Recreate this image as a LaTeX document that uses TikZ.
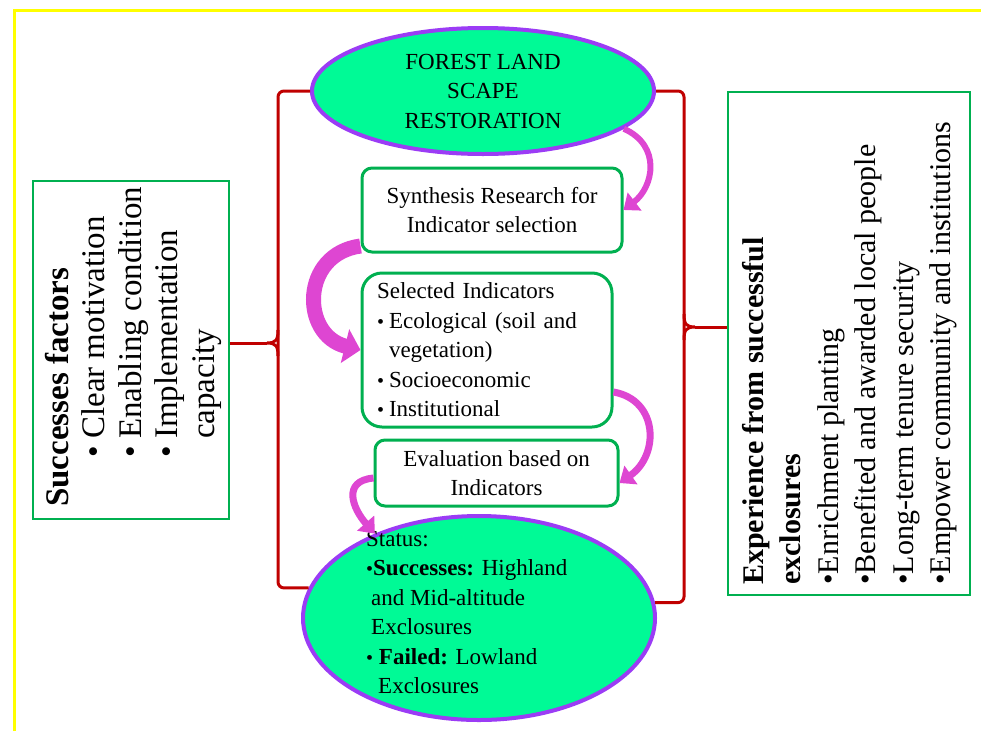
\documentclass[tikz,border=0pt]{standalone}
\usepackage{fontspec}
\setmainfont{Liberation Serif}
\usetikzlibrary{shapes.geometric,arrows.meta}
\definecolor{mint}{RGB}{0,250,150}
\definecolor{violetb}{RGB}{155,60,245}
\definecolor{gbox}{RGB}{0,176,80}
\definecolor{dred}{RGB}{192,0,0}
\definecolor{arrmag}{RGB}{222,70,210}
\definecolor{yel}{RGB}{255,255,0}
\newcommand\cfont{\fontsize{23}{29.5}\selectfont}
\newcommand\lfont{\fontsize{33}{36.5}\selectfont}
\newcommand\rfont{\fontsize{30}{37.5}\selectfont}
\newcommand\sbul{{\fontsize{20}{20}\selectfont •}}
\begin{document}
\begin{tikzpicture}[x=1pt,y=-1pt,
  oval/.style={ellipse, draw=violetb, line width=4pt, fill=mint, inner sep=0pt},
  cbox/.style={draw=gbox, line width=3pt, rounded corners=10pt, fill=white, inner sep=0pt},
  sbox/.style={draw=gbox, line width=2pt, fill=white},
  bracepath/.style={draw=dred, line width=3pt, rounded corners=6pt},
  bracetip/.style={draw=dred, line width=3pt},
  flow/.style={draw=arrmag, line width=7pt, -{Triangle[length=14pt,width=22pt]}}]
\useasboundingbox (0,0) rectangle (981,731);
\fill[white] (0,0) rectangle (981,731);
\draw[yel, line width=3pt] (14,731) -- (14,10) -- (981,10);

% side boxes
\node[sbox, minimum width=196pt, minimum height=338pt] (suc) at (131,350) {};
\node[rotate=90, anchor=north west, align=left, inner sep=0pt, font=\lfont] (suctxt) at (45,507)
 {\textbf{Successes factors}\\
  \hspace*{49pt}\makebox[19pt][l]{•}Clear motivation\\
  \hspace*{49pt}\makebox[19pt][l]{•}Enabling condition\\
  \hspace*{49pt}\makebox[19pt][l]{•}Implementation\\
  \hspace*{68pt}capacity};
\node[sbox, minimum width=242pt, minimum height=503pt] (exp) at (849,343) {};
\node[rotate=90, anchor=north west, align=left, inner sep=0pt, font=\rfont] (exptxt) at (742,585)
 {\textbf{Experience from successful}\\
  \textbf{exclosures}\\
  •Enrichment planting\\
  •Benefited and awarded local people\\
  •Long-term tenure security\\
  •Empower community and institutions};

% central
\node[oval, minimum width=342pt, minimum height=126pt, align=center, font=\cfont] (flr) at (483,91)
 {FOREST LAND\\SCAPE\\RESTORATION};
\node[cbox, minimum width=260pt, minimum height=84pt, align=center, font=\cfont] (syn) at (492,210)
 {Synthesis Research for\\Indicator selection};
\node[cbox, rounded corners=20pt, minimum width=250pt, minimum height=154pt, text width=220pt, align=left, font=\cfont] (sel) at (487,350)
 {Selected Indicators\\
  \makebox[12pt][l]{\sbul}Ecological (soil and\\
  \hspace*{12pt}vegetation)\\
  \makebox[12pt][l]{\sbul}Socioeconomic\\
  \makebox[12pt][l]{\sbul}Institutional};
\node[cbox, minimum width=243pt, minimum height=66pt, align=center, font=\cfont] (eva) at (496.5,473)
 {Evaluation based on\\Indicators};
\node[oval, minimum width=352pt, minimum height=204pt] (sta) at (479,618) {};
\node[anchor=north west, align=left, inner sep=0pt, font=\cfont] (statxt) at (366,531)
 {Status:\\
  \sbul\textbf{Successes:} Highland\\
  \hspace*{5pt}and Mid-altitude\\
  \hspace*{5pt}Exclosures\\
  \sbul\ \textbf{Failed:} Lowland\\
  \hspace*{12pt}Exclosures};

% red braces
\coordinate (lx) at (278,0);
\coordinate (rx) at (684,0);
\coordinate (ltip) at (267,343);
\coordinate (rtip) at (695,327);
\draw[bracepath] (flr.west) -- (flr.west -| lx) -- (sta.170 -| lx) -- (sta.170);
\draw[bracetip] (278,330) .. controls (278,340) and (276,343) .. (ltip) .. controls (276,343) and (278,346) .. (278,356);
\draw[bracetip] ([yshift=7pt]suc.east) -- (ltip);
\draw[bracepath] (flr.east) -- (flr.east -| rx) -- (sta.5 -| rx) -- (sta.5);
\draw[bracetip] (684,314) .. controls (684,324) and (686,327) .. (rtip) .. controls (686,327) and (684,330) .. (684,340);
\draw[bracetip] ([yshift=16pt]exp.west) -- (rtip);

% flow arrows
\draw[flow, line width=6pt] (flr.-15) .. controls +(38,17) and +(30,-23) .. (syn.east);
\draw[flow, line width=15pt, -{Triangle[length=16pt,width=34pt]}] ([yshift=-36pt]syn.west) .. controls +(-60,8) and +(-60,-15) .. (sel.west);
\draw[flow] ([yshift=-42pt]sel.east) .. controls +(45,8) and +(40,-28) .. ([yshift=-10pt]eva.east);
\draw[flow] ([yshift=-5pt]eva.west) .. controls +(-32,3) and +(-22,-25) .. (sta.141);
\end{tikzpicture}
\end{document}
